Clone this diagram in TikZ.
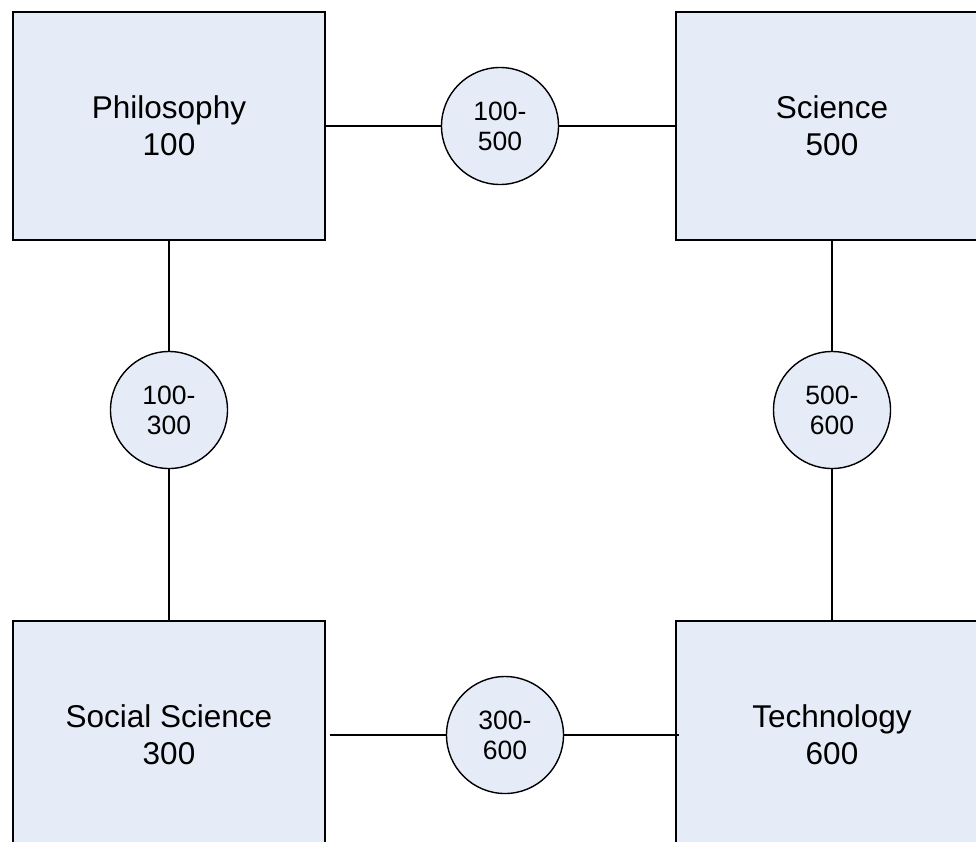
\documentclass[tikz,border=0pt]{standalone}
\usepackage{fontspec}
\setmainfont{Liberation Sans}
\definecolor{boxfill}{RGB}{230,236,247}
\tikzset{
  x=1pt, y=-1pt,
  subject/.style={draw=black, line width=1.6pt, fill=boxfill, rectangle,
    minimum width=312pt, minimum height=228pt, inner sep=0pt, align=center,
    font=\fontsize{31.5}{37}\selectfont},
  rangecircle/.style={draw=black, line width=1.4pt, fill=boxfill, circle,
    minimum size=117pt, inner sep=0pt, align=center,
    font=\fontsize{26.5}{30}\selectfont},
  link/.style={line width=1.4pt, draw=black}
}
\begin{document}
\begin{tikzpicture}
  \useasboundingbox (0,0) rectangle (976,841);
  \clip (0,0) rectangle (976,841);
  \fill[white] (0,0) rectangle (976,841);

  % class boxes
  \node[subject] (phil) at (169,126) {Philosophy\\100};
  \node[subject] (sci)  at (832,126) {Science\\500};
  \node[subject] (soc)  at (169,735) {Social Science\\300};
  \node[subject] (tech) at (832,735) {Technology\\600};

  % range circles
  \node[rangecircle] (r15) at (500,126) {100-\\500};
  \node[rangecircle] (r13) at (169,410) {100-\\300};
  \node[rangecircle] (r56) at (832,410) {500-\\600};
  \node[rangecircle] (r36) at (505,735) {300-\\600};

  % connectors
  \draw[link] (phil.east) -- (r15.west);
  \draw[link] (r15.east) -- (sci.west);
  \draw[link] (phil.south) -- (r13.north);
  \draw[link] (r13.south) -- (soc.north);
  \draw[link] (sci.south) -- (r56.north);
  \draw[link] (r56.south) -- (tech.north);
  \draw[link] ([xshift=4pt]soc.east) -- (r36.west);
  \draw[link] (r36.east) -- ([xshift=4pt]tech.west);
\end{tikzpicture}
\end{document}
